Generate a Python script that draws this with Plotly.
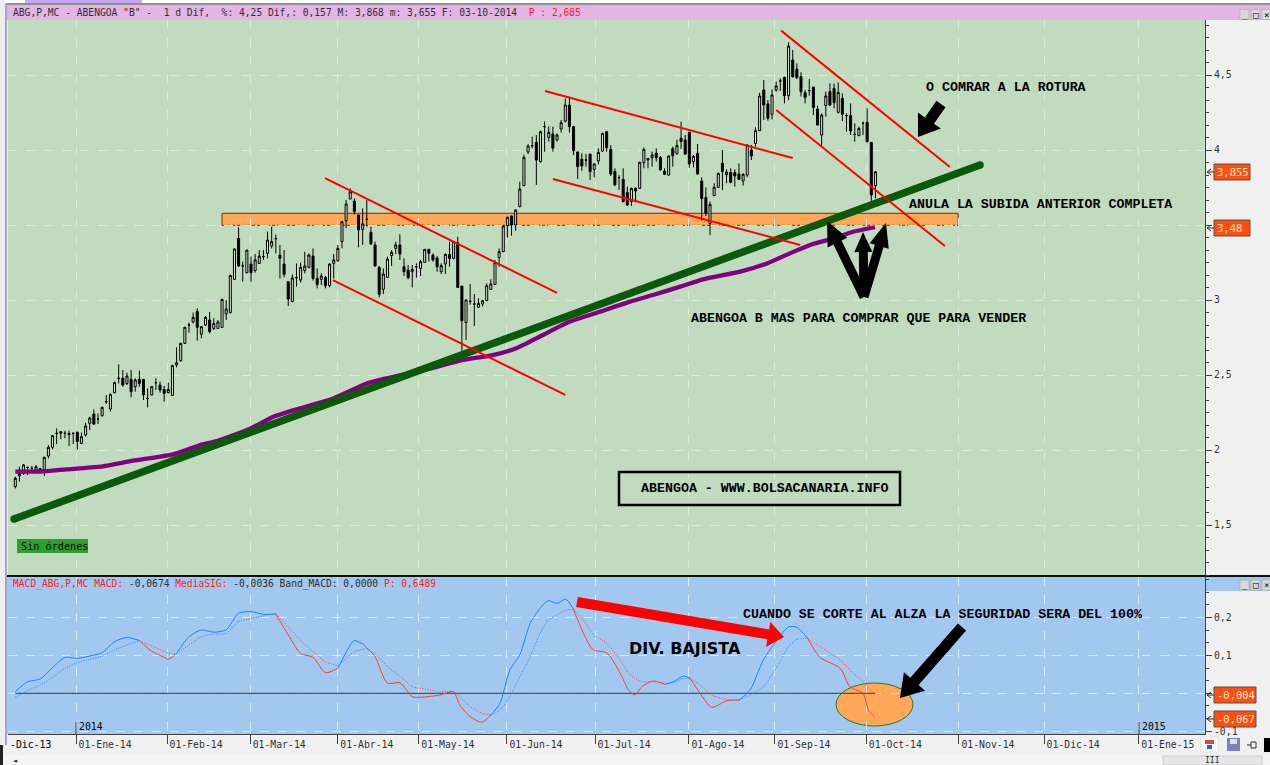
import math
import plotly.graph_objects as go

# ---------- price data ----------
opens = [1.756,1.827,1.844,1.884,1.878,1.867,1.876,1.867,1.96,2.018,
2.111,2.111,2.111,2.111,2.111,2.118,2.044,2.1,2.178,2.24,
2.207,2.229,2.322,2.273,2.382,2.478,2.478,2.444,2.471,2.422,
2.471,2.471,2.344,2.367,2.449,2.433,2.404,2.382,2.364,2.567,
2.596,2.711,2.833,2.853,2.924,2.773,2.833,2.867,2.811,2.811,
2.818,2.907,2.916,3.138,3.411,3.227,3.182,3.24,3.196,3.244,
3.289,3.311,3.36,3.409,3.3,3.24,3.122,2.989,3.149,3.133,
3.196,3.218,3.293,3.144,3.138,3.149,3.096,3.244,3.262,3.389,
3.529,3.673,3.66,3.567,3.471,3.538,3.451,3.367,3.218,3.071,
3.151,3.296,3.344,3.367,3.222,3.2,3.189,3.222,3.211,3.251,
3.338,3.3,3.28,3.189,3.24,3.304,3.278,3.382,3.093,2.849,
2.991,2.973,2.951,2.973,2.996,3.071,3.104,3.284,3.322,3.496,
3.56,3.5,3.622,3.762,3.987,4.029,4.051,3.922,4.156,4.084,
4.107,4.067,4.14,4.193,4.3,4.156,3.987,3.938,3.933,3.973,
3.871,3.927,3.993,4.122,4.004,3.858,3.816,3.804,3.716,3.656,
3.744,3.744,3.916,3.933,3.949,3.978,3.949,3.86,3.833,4.009,
3.978,4.078,4.067,4.118,3.922,3.978,3.793,3.684,3.511,3.696,
3.751,3.911,3.836,3.851,3.849,3.84,3.793,3.833,4.0,4.044,
4.129,4.4,4.307,4.238,4.4,4.46,4.484,4.362,4.6,4.54,
4.489,4.382,4.396,4.42,4.273,4.1,4.296,4.389,4.411,4.251,
4.344,4.229,4.229,4.104,4.096,4.178,4.184,4.051,3.762]
closes = [1.811,1.844,1.9,1.884,1.878,1.889,1.851,1.951,2.018,2.096,
2.111,2.122,2.111,2.102,2.111,2.056,2.089,2.16,2.213,2.173,
2.207,2.284,2.322,2.371,2.449,2.478,2.433,2.493,2.389,2.467,
2.444,2.367,2.344,2.422,2.449,2.4,2.378,2.404,2.564,2.582,
2.711,2.818,2.833,2.884,2.818,2.822,2.884,2.789,2.844,2.853,
3.004,2.94,3.164,3.34,3.227,3.227,3.333,3.182,3.267,3.293,
3.289,3.4,3.389,3.409,3.278,3.171,3.007,3.147,3.149,3.218,
3.227,3.3,3.144,3.104,3.16,3.096,3.24,3.267,3.344,3.522,
3.64,3.722,3.589,3.467,3.507,3.538,3.373,3.227,3.038,3.173,
3.273,3.318,3.367,3.307,3.189,3.149,3.204,3.222,3.256,3.338,
3.311,3.267,3.222,3.229,3.304,3.276,3.389,3.084,2.862,3.0,
2.991,2.973,2.978,2.996,3.096,3.107,3.249,3.322,3.493,3.551,
3.5,3.6,3.74,3.951,4.027,4.029,3.933,4.122,4.156,4.118,
4.013,4.1,4.182,4.3,4.156,3.996,3.889,3.893,3.933,3.856,
3.907,3.984,4.111,4.016,3.84,3.767,3.816,3.656,3.633,3.744,
3.727,3.918,4.004,3.944,3.967,3.949,3.867,3.838,3.96,3.962,
4.031,4.056,3.973,3.907,3.956,3.84,3.676,3.578,3.638,3.751,
3.844,3.856,3.853,3.784,3.827,3.804,3.838,4.033,3.96,4.129,
4.36,4.3,4.211,4.367,4.427,4.46,4.362,4.693,4.489,4.482,
4.389,4.351,4.396,4.284,4.167,4.233,4.36,4.3,4.316,4.384,
4.238,4.229,4.127,4.104,4.144,4.178,4.056,3.7,3.855]
highs = [1.822,1.889,1.907,1.889,1.893,1.9,1.882,1.956,2.033,2.1,
2.144,2.124,2.129,2.129,2.116,2.122,2.116,2.182,2.222,2.271,
2.244,2.289,2.367,2.378,2.456,2.571,2.533,2.516,2.533,2.478,
2.529,2.471,2.411,2.427,2.478,2.456,2.427,2.449,2.567,2.684,
2.716,2.822,2.849,2.916,2.944,2.827,2.893,2.92,2.878,2.867,
3.009,3.0,3.169,3.344,3.484,3.256,3.333,3.289,3.307,3.333,
3.333,3.456,3.489,3.436,3.367,3.333,3.122,3.171,3.244,3.249,
3.322,3.311,3.344,3.211,3.178,3.16,3.244,3.307,3.367,3.527,
3.667,3.744,3.678,3.567,3.611,3.667,3.489,3.389,3.227,3.211,
3.289,3.333,3.389,3.438,3.278,3.233,3.233,3.244,3.267,3.338,
3.338,3.311,3.293,3.244,3.311,3.389,3.389,3.422,3.093,3.004,
3.107,3.04,3.011,3.0,3.111,3.138,3.267,3.344,3.5,3.556,
3.562,3.604,3.789,3.969,4.038,4.089,4.1,4.129,4.189,4.156,
4.156,4.111,4.2,4.344,4.356,4.156,3.987,3.978,3.973,3.973,
3.911,4.011,4.116,4.127,4.033,3.878,3.833,3.878,3.756,3.749,
3.751,3.922,4.016,3.944,3.989,4.011,3.96,3.878,3.964,4.022,
4.067,4.189,4.1,4.122,3.967,4.04,3.818,3.751,3.656,3.778,
3.849,4.0,3.871,3.878,3.871,3.911,3.844,4.038,4.033,4.151,
4.382,4.467,4.333,4.404,4.456,4.478,4.489,4.718,4.667,4.578,
4.518,4.4,4.473,4.422,4.296,4.244,4.389,4.444,4.444,4.451,
4.378,4.244,4.311,4.178,4.156,4.189,4.278,4.051,3.86]
lows = [1.744,1.789,1.833,1.833,1.856,1.844,1.844,1.827,1.944,2.004,
2.04,2.071,2.078,2.027,2.04,2.004,2.04,2.089,2.133,2.167,
2.173,2.222,2.307,2.256,2.378,2.444,2.422,2.433,2.351,2.389,
2.422,2.333,2.284,2.364,2.4,2.382,2.322,2.378,2.362,2.551,
2.589,2.707,2.782,2.844,2.729,2.744,2.827,2.778,2.8,2.807,
2.813,2.867,2.911,3.133,3.222,3.122,3.178,3.122,3.182,3.24,
3.267,3.278,3.344,3.311,3.144,3.151,2.96,2.989,3.089,3.116,
3.178,3.211,3.129,3.078,3.1,3.078,3.084,3.144,3.256,3.344,
3.478,3.673,3.571,3.351,3.367,3.489,3.367,3.222,3.018,3.04,
3.147,3.227,3.307,3.267,3.16,3.138,3.084,3.149,3.16,3.249,
3.256,3.256,3.189,3.173,3.173,3.222,3.271,3.082,2.662,2.733,
2.969,2.827,2.949,2.956,2.993,3.067,3.1,3.222,3.32,3.416,
3.429,3.462,3.618,3.76,3.973,4.011,3.767,3.916,3.989,4.056,
3.989,4.056,4.116,4.184,4.116,3.967,3.807,3.862,3.889,3.8,
3.818,3.904,3.989,3.989,3.827,3.76,3.733,3.651,3.629,3.627,
3.651,3.74,3.878,3.878,3.889,3.922,3.862,3.833,3.829,3.889,
3.967,4.007,3.967,3.882,3.884,3.836,3.529,3.56,3.433,3.693,
3.747,3.733,3.778,3.778,3.756,3.8,3.762,3.818,3.933,4.022,
4.127,4.2,4.196,4.204,4.389,4.393,4.311,4.333,4.482,4.473,
4.356,4.311,4.362,4.233,4.162,4.022,4.222,4.293,4.278,4.244,
4.193,4.122,4.1,4.056,4.093,4.1,4.049,3.656,3.678]
bars = list(range(len(opens)))

# moving average (purple)
ma_bars = [0,6,12.4,20.5,28.5,38.2,44.7,48.7,56.8,62.4,68.9,76.9,85,89.8,97.9,101,108.3,115.5,121.3,127.6,134.1,141.4,148.7,154.2,160.8,166.3,175.3,181.8,187.3,192.9,197.8,202.6,207.9]
ma_vals = [1.856,1.856,1.871,1.889,1.929,1.971,2.033,2.06,2.142,2.222,2.278,2.344,2.444,2.478,2.527,2.547,2.6,2.633,2.68,2.767,2.856,2.922,2.989,3.033,3.089,3.138,3.189,3.244,3.311,3.373,3.411,3.455,3.485]

# long-term support line (green)
support_bars = [-0.3,233.3]
support_vals = [1.54,3.9]

# red channel lines: (bar, price) ends
channel_lines = [
    ([74.9,131.0],[3.813,3.047]),
    ([76.8,133.0],[3.133,2.367]),
    ([128.1,188.0],[4.393,3.947]),
    ([130.0,189.8],[3.807,3.367]),
    ([185.2,226.0],[4.796,3.887]),
    ([184.0,224.8],[4.267,3.36]),
]
band_bars = [50,228]
band_prices = [3.498,3.578]

# MACD panel
macd_bars = [0,3,6,9,12,15,18,21,24,27,30,33,36,37,39,42,45,48,51,54,57,60,63,66,69,72,75,78,81,82,84,85,87,90,93,96,97.9,102.7,105.9,107.5,110,112.8,115,117.2,119.6,122,124.5,126.9,128.9,131,133.1,135,137.4,139.8,143,146.3,148.3,149.9,151.5,154.3,157.1,159.2,161.6,163.2,165.6,168.4,172.1,175.1,177.7,180.9,184.2,187,189,191.6,194.6,199.5,201.8,205,206.3,207.9]
macd_vals = [.0044,.0307,.0377,.0675,.0947,.0921,.0982,.107,.136,.147,.139,.111,.0947,.0895,.105,.149,.167,.161,.167,.211,.215,.208,.209,.154,.105,.0947,.0544,.0658,.127,.139,.130,.120,.0965,.0263,.0281,-.0088,-.0105,-.0044,.0044,-.0307,-.0614,-.0763,-.057,-.0263,.0614,.101,.184,.224,.244,.237,.248,.221,.158,.114,.107,.0526,.0088,-.0044,.0175,.0325,.0237,.0307,.0456,.0395,0,-.0368,-.0193,-.0175,.0088,.0877,.140,.175,.174,.145,.0947,.0658,.0175,0,-.0439,-.0632]
signal_vals = [-.0105,.0070,.0219,.0421,.0658,.0807,.0895,.0982,.114,.127,.139,.125,.110,.105,.105,.127,.149,.156,.158,.189,.197,.204,.209,.175,.140,.110,.0833,.0719,.101,.110,.116,.1175,.105,.0702,.0456,.0175,.0132,.0044,.0044,-.0088,-.0351,-.0526,-.057,-.0439,-.0088,.0439,.0965,.158,.193,.206,.219,.221,.193,.154,.132,.0877,.0526,.0395,.0307,.0307,.0263,.0281,.0395,.0395,.0219,-.0044,-.0158,-.0175,-.0044,.0175,.0702,.123,.142,.145,.123,.0877,.0614,.0307,.0132,-.0036]
band_macd = [0.0,0.0]
band_macd_bars = [0,208]

# axis ticks
date_ticks = [14.7,36.7,56.8,78,97.6,118.9,140.2,162.9,183.7,205.8,228.2,248.8,271.7]
date_labels = ["01-Ene-14","01-Feb-14","01-Mar-14","01-Abr-14","01-May-14","01-Jun-14","01-Jul-14","01-Ago-14","01-Sep-14","01-Oct-14","01-Nov-14","01-Dic-14","01-Ene-15"]
price_ticks = [4.5,4,3.5,3,2.5,2,1.5]
price_labels = ["4,5","4","3,5","3","2,5","2","1,5"]
macd_ticks = [0.2,0.1,0,-0.1]
macd_labels = ["0,2","0,1","0","-0,1"]

MONO = "DejaVu Sans Mono"
TXT = "Liberation Mono"
GREEN_BG, BLUE_BG = "#c1dbbf", "#a3c8f0"
UP_CLR, DN_CLR = "#1e82ff", "#ff3b30"

def fx(px): return px / 1270
def fy(py): return 1 - py / 765

fig = go.Figure()
fig.add_trace(go.Candlestick(x=bars, open=opens, high=highs, low=lows, close=closes,
    increasing=dict(line=dict(color="#000000", width=1), fillcolor="#dbe9d5"),
    decreasing=dict(line=dict(color="#000000", width=1), fillcolor="#000000"),
    whiskerwidth=0, xaxis="x", yaxis="y", hoverinfo="skip", showlegend=False))
fig.add_trace(go.Scatter(x=ma_bars, y=ma_vals, mode="lines",
    line=dict(color="#800080", width=4.3, shape="spline", smoothing=0.5),
    hoverinfo="skip", showlegend=False, xaxis="x", yaxis="y"))
fig.add_trace(go.Scatter(x=support_bars, y=support_vals, mode="lines+markers",
    line=dict(color="#0b5a0b", width=7.5), marker=dict(color="#0b5a0b", size=7.5),
    hoverinfo="skip", showlegend=False, xaxis="x", yaxis="y"))
for xs, ys in channel_lines:
    fig.add_trace(go.Scatter(x=xs, y=ys, mode="lines", line=dict(color="#ff0000", width=2),
        hoverinfo="skip", showlegend=False, xaxis="x", yaxis="y"))

# MACD lines, coloured by which is above
fig.add_trace(go.Scatter(x=band_macd_bars, y=band_macd, mode="lines", line=dict(color="#2b3a55", width=1),
    hoverinfo="skip", showlegend=False, xaxis="x2", yaxis="y2"))
def segments(vals, dash):
    start = 0
    n = len(macd_bars)
    def up(i): return macd_vals[i] + macd_vals[i+1] >= signal_vals[i] + signal_vals[i+1]
    for i in range(1, n):
        if i == n - 1 or up(i) != up(start):
            color = UP_CLR if up(start) else DN_CLR
            fig.add_trace(go.Scatter(x=macd_bars[start:i+1], y=vals[start:i+1], mode="lines",
                line=dict(color=color, width=1, dash=dash, shape="spline", smoothing=0.7),
                hoverinfo="skip", showlegend=False, xaxis="x2", yaxis="y2"))
            start = i
segments(signal_vals, "1px,1.5px")
segments(macd_vals, "solid")

# ---------- chrome & callouts ----------
shapes, notes = [], []
def rect(x0, y0, x1, y1, fill, line=None, lw=1, layer="below"):
    shapes.append(dict(type="rect", xref="paper", yref="paper", x0=fx(x0), x1=fx(x1), y0=fy(y1), y1=fy(y0),
        fillcolor=fill, line=dict(color=line, width=lw) if line else dict(width=0), layer=layer))
def seg(x0, y0, x1, y1, color, lw=1, layer="above"):
    shapes.append(dict(type="line", xref="paper", yref="paper", x0=fx(x0), x1=fx(x1), y0=fy(y0), y1=fy(y1),
        line=dict(color=color, width=lw), layer=layer))
def note(px, py, text, size=13.3, color="#000", bold=False, font=TXT, anchor="left"):
    t = f"<b>{text}</b>" if bold else text
    notes.append(dict(xref="paper", yref="paper", x=fx(px), y=fy(py), text=t, showarrow=False,
        xanchor=anchor, yanchor="middle", borderpad=0, font=dict(family=font, size=size, color=color)))
def arrow(tx, ty, hx, hy, sw, hw, hl, color="#000000"):
    L = math.hypot(hx - tx, hy - ty)
    ux, uy = (hx - tx) / L, (hy - ty) / L
    nx, ny = -uy, ux
    bx, by = hx - ux * hl, hy - uy * hl
    pts = [(tx + nx*sw/2, ty + ny*sw/2), (bx + nx*sw/2, by + ny*sw/2), (bx + nx*hw/2, by + ny*hw/2),
           (hx, hy), (bx - nx*hw/2, by - ny*hw/2), (bx - nx*sw/2, by - ny*sw/2), (tx - nx*sw/2, ty - ny*sw/2)]
    path = "M " + " L ".join(f"{fx(a):.5f},{fy(b):.5f}" for a, b in pts) + " Z"
    shapes.append(dict(type="path", xref="paper", yref="paper", path=path, fillcolor=color, line=dict(width=0), layer="above"))

# window frame
rect(0, 0, 1270, 4, "#ffffff")
rect(25, 0, 142, 3, "#c4a8f0")
rect(7, 3, 1270, 5, "#8f9090")
rect(0, 0, 5, 765, "#eeeeee")
rect(5, 3, 7, 745, "#a4a4cc")
rect(7, 5, 1270, 20, "#e4b4e4")
rect(1205, 577, 1270, 591, BLUE_BG)
rect(7, 575, 1270, 577, "#101010")
rect(7, 577, 8, 734, BLUE_BG)
rect(0, 755, 1270, 765, "#f5f5f5")
rect(1163, 756, 1262, 765, "#e6e6e6", "#c8c8c8")
note(1212, 760, "III", size=8, anchor="center", font=MONO, color="#303030")
note(15, 761, "◄", size=7, anchor="center", font=MONO, color="#303030")
rect(0, 745, 3, 765, "#222222")
for by in (14.5, 585):
    for bx, glyph in ((1240, "_"), (1251, "□"), (1262, "×")):
        rect(bx, by - 5, bx + 9, by + 5, "#d8d8d8", "#a0a0a0", 0.5)
        note(bx + 4.5, by, glyph, size=9, anchor="center", font=MONO)
# icons at bottom-right
rect(1201, 737, 1218, 752, "#fafafa", "#d0d0d0", 0.5)
rect(1205, 740, 1214, 744, "#d94a3a")
rect(1207, 745, 1212, 749, "#2266dd")
rect(1227, 738, 1240, 751, "#8080c0")
rect(1230, 739, 1237, 744, "#e0e0f0")
rect(1251, 742, 1256, 748, "#eeeeee", "#303030", 1)
seg(1247, 745, 1251, 745, "#303030", 1)
rect(1264, 738, 1270, 752, "#000000")

# support band
band_line = dict(color="#7a2a10", width=1)
shapes.append(dict(type="rect", xref="x", yref="y", x0=band_bars[0], x1=band_bars[1], y0=band_prices[0], y1=band_prices[1],
    fillcolor="#ffa858", line=dict(width=0), layer="below"))
shapes.append(dict(type="line", xref="x", yref="y", x0=band_bars[0], x1=band_bars[1], y0=band_prices[1], y1=band_prices[1], line=band_line, layer="below"))
shapes.append(dict(type="line", xref="x", yref="y", x0=band_bars[0], x1=band_bars[0], y0=band_prices[0], y1=band_prices[1], line=band_line, layer="below"))
shapes.append(dict(type="line", xref="x", yref="y", x0=band_bars[1], x1=band_bars[1], y0=band_prices[0], y1=band_prices[1], line=band_line, layer="below"))
shapes.append(dict(type="line", xref="x", yref="y", x0=band_bars[0], x1=band_bars[1], y0=band_prices[0], y1=band_prices[0],
    line=dict(color="#7a2a10", width=1, dash="3px,2px"), layer="below"))

# ellipse on MACD
shapes.append(dict(type="circle", xref="paper", yref="paper", x0=fx(836), x1=fx(913), y0=fy(726), y1=fy(683),
    fillcolor="#ffa858", line=dict(color="#1f7a2a", width=1), layer="below"))

# year ticks
seg(76, 722, 76, 734, "#404040")
seg(1139, 722, 1139, 734, "#404040")
note(78, 726, "2014", size=9.8, font=MONO)
note(1141, 726, "2015", size=9.8, font=MONO)
note(9, 744, "-Dic-13", size=9.8, font=MONO)

# arrows
arrow(941, 104, 918, 137, 11, 28, 20)
arrow(864, 297, 827, 221, 9, 22, 24)
arrow(864, 297, 863, 232, 9, 18, 20)
arrow(864, 297, 886, 223, 9, 20, 24)
arrow(577, 602, 784, 637, 10, 25, 16, "#ff0000")
arrow(962, 627, 900, 698, 11, 28, 22)

# price box labels
for y0, txt in ((164, "3,855"), (220, "3,48"), (687, "-0,004"), (711, "-0,067")):
    rect(1214, y0, 1214 + (36 if len(txt) < 6 else 42), y0 + 16, "#ff4f10", "#505050", 1, layer="above")
    note(1216, y0 + 8, txt, size=10.5, color="#ffe8c8", font=MONO)
    seg(1207, y0 + 8, 1214, y0 + 8, "#303030", 1)
    seg(1207, y0 + 8, 1211, y0 + 5, "#303030", 1)
    seg(1207, y0 + 8, 1211, y0 + 11, "#303030", 1)

# "Sin ordenes" tag
rect(17, 539, 88, 553, "#2f9e2f", layer="above")
note(20, 546.5, "Sin órdenes", size=10.2, font=MONO, color="#001000")

# callout text
note(925, 87, "O COMRAR A LA ROTURA", bold=True)
note(908, 205, "ANULA LA SUBIDA ANTERIOR COMPLETA", bold=True)
note(690, 318, "ABENGOA B MAS PARA COMPRAR QUE PARA VENDER", bold=True)
note(742, 614, "CUANDO SE CORTE AL ALZA LA SEGURIDAD SERA DEL 100%", bold=True)
note(640, 489, "ABENGOA - WWW.BOLSACANARIA.INFO", bold=True)
rect(619, 472, 900, 505, "rgba(0,0,0,0)", "#000000", 2.5, layer="above")
note(628, 648, "DIV. BAJISTA", size=16, bold=True, font="DejaVu Sans")

# captions
R, D = "#ff2020", "#303030"
note(12, 12.5, 'ABG,P,MC - ABENGOA "B" -  1 d Dif,  %: 4,25 Dif,: 0,157 M: 3,868 m: 3,655 F: 03-10-2014  '
     f'<span style="color:{R}">P : 2,685</span>', size=9.65, font=MONO, color=D)
note(12, 583.5, f'<span style="color:{R}">MACD_ABG,P,MC MACD:</span> -0,0674 <span style="color:{R}">MediaSIG:</span> '
     f'-0,0036 Band_MACD: 0,0000 <span style="color:{R}">P: 0,6489</span>', size=9.65, font=MONO, color=D)

x_rng = [-1.765, 287.7]
grid_g = dict(showgrid=True, gridcolor="#dde9da", griddash="dash", gridwidth=1)
grid_b = dict(showgrid=True, gridcolor="#dbe8f8", griddash="dash", gridwidth=1)
axfont = dict(family=MONO, size=9.8, color="#303030")
fig.update_layout(
    width=1270, height=765, autosize=False, margin=dict(l=0, r=0, t=0, b=0, pad=0),
    paper_bgcolor="#f0f0f0", plot_bgcolor=GREEN_BG, showlegend=False,
    shapes=shapes, annotations=notes,
    xaxis=dict(domain=[fx(8), fx(1205)], range=x_rng, anchor="y", tickmode="array", tickvals=date_ticks,
               showticklabels=False, ticks="", zeroline=False, automargin=False,
               rangeslider=dict(visible=False), **grid_g),
    yaxis=dict(domain=[fy(575), fy(20)], range=[1.1667, 4.8667], anchor="x", side="right", automargin=False,
               tickmode="array", tickvals=price_ticks, ticktext=price_labels, ticks="outside", ticklen=6,
               tickcolor="#404040", tickfont=axfont, showline=True, linecolor="#404040", linewidth=1,
               zeroline=False, minor=dict(dtick=0.08333, tick0=1.5, ticks="outside", ticklen=3, tickcolor="#404040", showgrid=False),
               **grid_g),
    xaxis2=dict(domain=[fx(8), fx(1205)], range=x_rng, anchor="y2", tickmode="array", tickvals=date_ticks,
                ticktext=date_labels, ticks="outside", ticklen=9, tickcolor="#404040", tickangle=0, automargin=False,
                tickfont=axfont, showline=True, linecolor="#404040", linewidth=1, zeroline=False,
                ticklabelshift=29, ticklabelstandoff=-8, **grid_b),
    yaxis2=dict(domain=[fy(734), fy(577)], range=[-0.1071, 0.3063], anchor="x2", side="right", automargin=False,
                tickmode="array", tickvals=macd_ticks, ticktext=macd_labels, ticks="outside", ticklen=6,
                tickcolor="#404040", tickfont=axfont, showline=True, linecolor="#404040", linewidth=1,
                zeroline=False, minor=dict(dtick=0.03333, tick0=0, ticks="outside", ticklen=3, tickcolor="#404040", showgrid=False),
                **grid_b),
)
# MACD panel background via its own rectangle beneath traces
shapes_bg = dict(type="rect", xref="x2 domain", yref="y2 domain", x0=0, x1=1, y0=0, y1=1,
                 fillcolor=BLUE_BG, line=dict(width=0), layer="below")
fig.layout.shapes = [shapes_bg] + list(fig.layout.shapes)

fig.write_html("out.html", config=dict(displayModeBar=False),
               post_script="document.body.style.margin='0';document.body.style.overflow='hidden';")
